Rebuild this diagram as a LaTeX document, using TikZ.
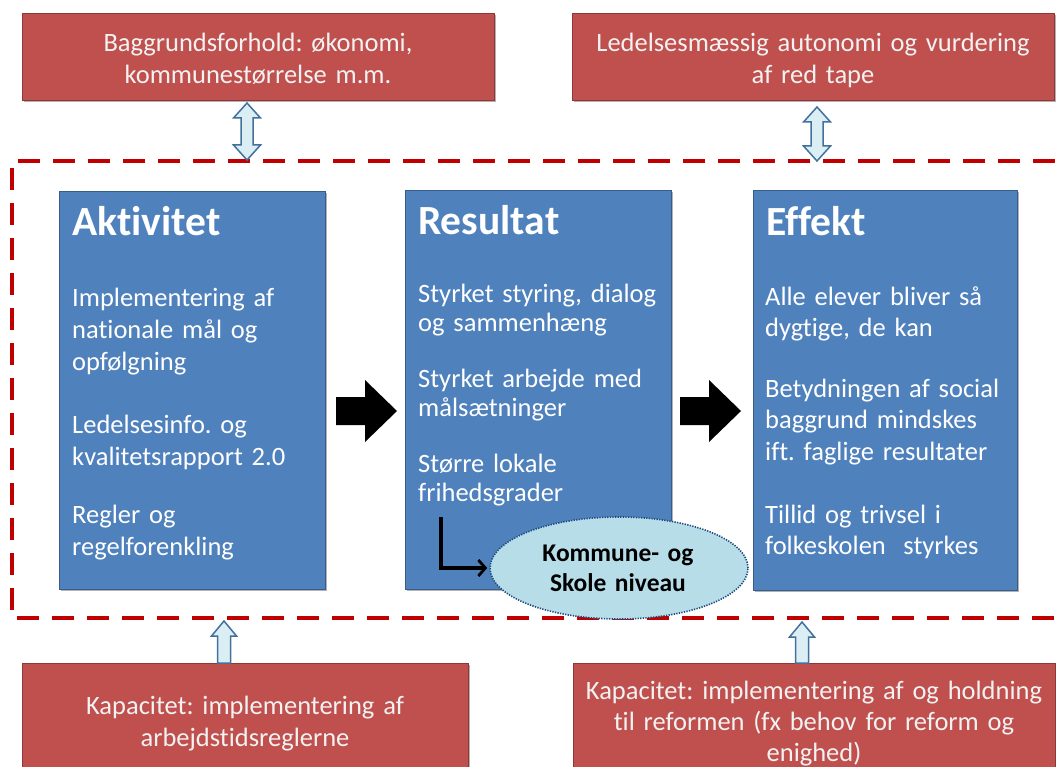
\documentclass[tikz,border=0pt]{standalone}
\usepackage{fontspec}
\setmainfont{Carlito}[Ligatures=NoCommon]
\usetikzlibrary{shadows,shapes.geometric,arrows.meta}
\definecolor{redfill}{HTML}{C0504D}
\definecolor{redline}{HTML}{8C3836}
\definecolor{bluefill}{HTML}{4F81BD}
\definecolor{blueline}{HTML}{385D8A}
\definecolor{framered}{HTML}{C00000}
\definecolor{arrowfill}{HTML}{DBEEF4}
\definecolor{arrowline}{HTML}{41719C}
\definecolor{ellfill}{HTML}{B7DEE8}
\definecolor{ellline}{HTML}{1F497D}
\frenchspacing
\newcommand\udarrowshape[3]{% x, ytop, ybottom (double headed)
  \draw[arrowbox] (#1,#2) -- (#1+13.5,#2+15) -- (#1+6,#2+15) -- (#1+6,#3-15) -- (#1+13.5,#3-15)
    -- (#1,#3) -- (#1-13.5,#3-15) -- (#1-6,#3-15) -- (#1-6,#2+15) -- (#1-13.5,#2+15) -- cycle;}
\newcommand\uparrowshape[3]{% x, ytip, ybottom
  \draw[arrowbox] (#1,#2) -- (#1+12.5,#2+15) -- (#1+6.5,#2+15) -- (#1+6.5,#3)
    -- (#1-6.5,#3) -- (#1-6.5,#2+15) -- (#1-12.5,#2+15) -- cycle;}
\newcommand\blockarrowshape[2]{% xleft, ycenter
  \fill[black] (#1,#2-14) -- (#1+29,#2-14) -- (#1+29,#2-31) -- (#1+61,#2) -- (#1+29,#2+31)
    -- (#1+29,#2+14) -- (#1,#2+14) -- cycle;}
\begin{document}
\begin{tikzpicture}[x=1pt,y=-1pt,
  shadowed/.style={drop shadow={shadow xshift=1.5pt,shadow yshift=-1.5pt,opacity=.3,fill=black}},
  redbox/.style={draw=redline,fill=redfill,line width=1pt,shadowed,inner sep=0,anchor=north west},
  bluebox/.style={draw=blueline,fill=bluefill,line width=1.2pt,shadowed,inner sep=0,anchor=north west},
  redtext/.style={text=white!95!black,inner sep=0,anchor=base,align=center,font=\fontsize{26.5}{32}\selectfont},
  headtext/.style={text=white,inner sep=0,anchor=base west,font=\fontsize{41.5}{48}\selectfont\bfseries},
  bodytext/.style={text=white,inner sep=0,anchor=base west,text width=262pt,align=left,font=\fontsize{26.5}{32}\selectfont},
  frame/.style={draw=framered,line width=4pt,dash pattern=on 22pt off 13pt},
  arrowbox/.style={draw=arrowline,fill=arrowfill,line width=1.5pt,line join=miter},
  ellipsebox/.style={ellipse,draw=ellline,fill=ellfill,line width=1.6pt,dash pattern=on 1.3pt off 1.3pt,inner sep=0}
]
\useasboundingbox (0,0) rectangle (1056,767);

% dashed frame
\draw[frame] (1090,161) -- (12,161) -- (12,618) -- (1090,618);

% red boxes
\node[redbox,minimum width=472pt,minimum height=87pt] (bg) at (22,13) {};
\node[redbox,minimum width=482pt,minimum height=87pt] (led) at (572,13) {};
\node[redbox,minimum width=446pt,minimum height=130pt] (kap1) at (22,663) {};
\node[redbox,minimum width=482pt,minimum height=130pt] (kap2) at (573,663) {};

\node[redtext,text width=470pt] (bgt) at (258,52) {Baggrundsforhold: økonomi,\\kommunestørrelse m.m.};
\node[redtext,text width=480pt] (ledt) at (813,52) {Ledelsesmæssig autonomi og vurdering\\af red tape};
\node[redtext,text width=440pt] (kap1t) at (245,714) {Kapacitet: implementering af\\arbejdstidsreglerne};
\node[redtext,text width=480pt,font=\fontsize{26.5}{31}\selectfont] (kap2t) at (814,699) {Kapacitet: implementering af og holdning\\til reformen (fx behov for reform og\\enighed)};

% arrows between red boxes and frame
\udarrowshape{247}{103}{160}
\udarrowshape{817}{107}{161}
\uparrowshape{224}{621}{663}
\uparrowshape{802}{622}{663}

% blue boxes
\node[bluebox,minimum width=266pt,minimum height=398pt] (akt) at (59,191) {};
\node[bluebox,minimum width=266pt,minimum height=399pt] (res) at (405,190) {};
\node[bluebox,minimum width=264pt,minimum height=400pt] (eff) at (753,190) {};

% Aktivitet
\node[headtext] (akth) at (72,236) {Aktivitet};
\node[bodytext] (akt1) at (72,306) {Implementering af\\nationale mål og\\opfølgning};
\node[bodytext] (akt2) at (72,433) {Ledelsesinfo. og\\kvalitetsrapport 2.0};
\node[bodytext] (akt3) at (72,523) {Regler og\\regelforenkling};

% Resultat
\node[headtext] (resh) at (418,234) {Resultat};
\node[bodytext,font=\fontsize{26.5}{29}\selectfont] (res1) at (418,302) {Styrket styring, dialog\\og sammenhæng};
\node[bodytext,font=\fontsize{26.5}{29}\selectfont] (res2) at (418,387) {Styrket arbejde med\\målsætninger};
\node[bodytext,font=\fontsize{26.5}{29}\selectfont] (res3) at (418,472) {Større lokale\\frihedsgrader};

% Effekt
\node[headtext] (effh) at (766,235) {Effekt};
\node[bodytext,font=\fontsize{26.5}{31}\selectfont] (eff1) at (765,305) {Alle elever bliver så\\dygtige, de kan};
\node[bodytext,font=\fontsize{26.5}{31.5}\selectfont] (eff2) at (765,397) {Betydningen af social\\baggrund mindskes\\ift. faglige resultater};
\node[bodytext,font=\fontsize{26.5}{31}\selectfont] (eff3) at (765,523) {Tillid og trivsel i\\folkeskolen~ styrkes};

% black block arrows
\blockarrowshape{336}{411}
\blockarrowshape{680}{411}

% ellipse
\node[ellipsebox,minimum width=258pt,minimum height=102pt] (niv) at (619,568) {};
\node[inner sep=0,anchor=base,align=center,text width=240pt,font=\fontsize{25.5}{30}\selectfont\bfseries] (nivt) at (618,561) {Kommune- og\\Skole niveau};

% L-shaped arrow into the ellipse
\coordinate (lstart) at (441,517);
\draw[line width=3.2pt,-{Straight Barb[length=7pt,width=16pt,line width=2.8pt]}] (lstart) |- ([xshift=-2pt]niv.west);
\end{tikzpicture}
\end{document}
